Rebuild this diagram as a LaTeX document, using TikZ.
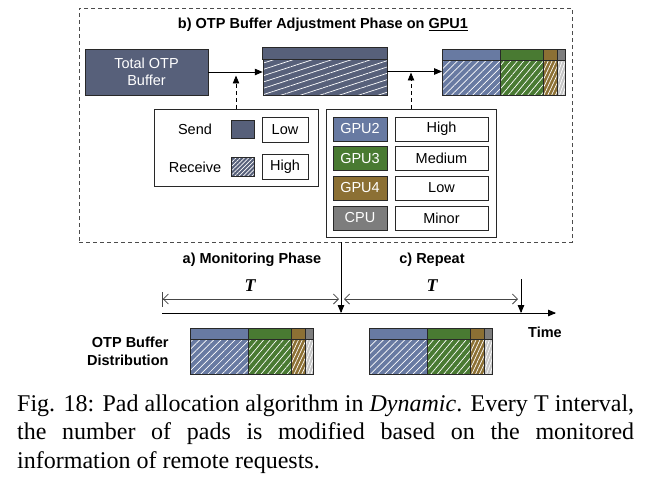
\documentclass[tikz,border=0pt]{standalone}
\usepackage{fontspec}
\setmainfont{Liberation Serif}
\setsansfont{Liberation Sans}
\usepackage{tikz}
\usetikzlibrary{shapes,arrows,arrows.meta,patterns.meta}

\definecolor{slate}{RGB}{87,96,122}
\definecolor{gpublue}{RGB}{104,122,162}
\definecolor{gpugreen}{RGB}{73,122,50}
\definecolor{gpubrown}{RGB}{140,112,52}
\definecolor{cpugray}{RGB}{125,125,125}
\definecolor{edge}{RGB}{40,40,40}

\tikzset{
  txt/.style={font=\sffamily\fontsize{14.5}{17}\selectfont},
  btxt/.style={font=\sffamily\bfseries\fontsize{14.5}{18}\selectfont},
  cell/.style={draw=edge, line width=0.8pt, rectangle, inner sep=0pt, txt},
  hatch/.style args={#1/#2/#3}{preaction={fill=#1},
    pattern={Lines[angle=#2,distance=#3,line width=0.7pt]}, pattern color=white},
}

\begin{document}
\begin{tikzpicture}[x=1pt,y=-1pt]
\useasboundingbox (0,0) rectangle (653,483);

% b) adjustment phase
\node[draw=gray!60!black, dash pattern=on 4pt off 3pt, line width=0.8pt, minimum width=493pt, minimum height=234pt, inner sep=0pt] (phaseb) at (325.5,125) {};
\node[btxt] (title) at (323,25) {b) OTP Buffer Adjustment Phase on \underline{GPU1}};

\node[cell, fill=slate, text=white, minimum width=123pt, minimum height=46pt, align=center] (otp) at (146.5,72) {Total OTP\\Buffer};

\node[cell, hatch={slate/18/6pt}, minimum width=124pt, minimum height=47pt] (mid) at (325,71.5) {};
\draw[edge, fill=slate, line width=0.8pt] (mid.north west) rectangle ([yshift=-12pt]mid.north east);

% distribution bars
\foreach \bx/\by/\bn in {442/49/adj, 190/328/mon, 369/328/rep}{
  \begin{scope}[shift={(\bx,\by)}]
    \foreach \sx/\sw/\segc/\lowc/\sa/\sd in {0/58/gpublue/gpublue/45/5pt, 58/43/gpugreen/gpugreen/50/5pt, 101/14/gpubrown/gpubrown/65/3.5pt, 115/8/cpugray/gray!45/70/3pt}{
      \draw[edge, line width=0.8pt, fill=\segc] (\sx,0) rectangle ++(\sw,11);
      \draw[edge, line width=0.8pt, hatch={\lowc/\sa/\sd}] (\sx,11) rectangle ++(\sw,35);
    }
    \coordinate (\bn) at (0,23);
  \end{scope}
}

\draw[-triangle 45, line width=0.8pt] (otp.east) -- (otp.east -| mid.west);
\draw[-triangle 45, line width=0.8pt] (mid.east) -- (mid.east -| adj);

% legends
\node[cell, minimum width=164pt, minimum height=77pt] (lgl) at (236,147.5) {};
\node[txt] (send) at (195,129) {Send};
\node[txt] (recv) at (195,167) {Receive};
\node[cell, fill=slate, minimum width=23pt, minimum height=18pt] (sendsw) at (242.5,129) {};
\node[cell, hatch={slate/45/3pt}, minimum width=23pt, minimum height=19pt] (recvsw) at (242.5,166.5) {};
\node[cell, minimum width=46pt, minimum height=25pt] (sendlvl) at (285,129.5) {Low};
\node[cell, minimum width=46pt, minimum height=25pt] (recvlvl) at (285,166.5) {High};

\node[cell, minimum width=170pt, minimum height=128pt] (lgr) at (411,173) {};
\foreach \dev/\lvl/\col/\yy in {GPU2/High/gpublue/129, GPU3/Medium/gpugreen/158.5, GPU4/Low/gpubrown/188, CPU/Minor/cpugray/218}{
  \node[cell, fill=\col, text=white, minimum width=54pt, minimum height=24pt] (dev\dev) at (360,\yy) {\dev};
  \node[cell, minimum width=93pt, minimum height=24pt] (lvl\dev) at (441.5,\yy) {\lvl};
}

\draw[dash pattern=on 4pt off 3pt, -triangle 45, line width=0.8pt] (lgl.north) -- ++(0,-33);
\draw[dash pattern=on 4pt off 3pt, -triangle 45, line width=0.8pt] (lgr.north) -- ++(0,-36);

% timeline
\coordinate (t0) at (162,313);
\coordinate (tmid) at (341,313);
\coordinate (tnext) at (521,313);
\coordinate (tend) at (556,313);
\draw[-triangle 45, line width=0.8pt] (t0) -- (tend);
\draw[-triangle 45, line width=0.8pt] (phaseb.south -| tmid) -- (tmid);
\draw[-triangle 45, line width=0.8pt] ([yshift=34pt]tnext) -- (tnext);

\draw[gray!55!black, line width=0.8pt, {Bar[width=15pt]Straight Barb[length=5pt]}-{Straight Barb[length=5pt]}] ([yshift=14pt]t0) -- ([xshift=-2pt,yshift=14pt]tmid);
\draw[gray!55!black, line width=0.8pt, {Straight Barb[length=5pt]}-{Straight Barb[length=5pt]}] ([xshift=3pt,yshift=14pt]tmid) -- ([xshift=-3pt,yshift=14pt]tnext);

\node[font=\bfseries\itshape\fontsize{18}{20}\selectfont] (T1) at (250,286) {T};
\node[font=\bfseries\itshape\fontsize{18}{20}\selectfont] (T2) at (432,286) {T};
\node[btxt] (mon) at (252,260) {a) Monitoring Phase};
\node[btxt] (rep) at (432,260) {c) Repeat};
\node[btxt] (time) at (545,332) {Time};
\node[btxt, align=right, anchor=east] (dist) at (172,351) {OTP Buffer\\Distribution};

% caption
\node[anchor=base west, inner sep=0pt, font=\fontsize{24}{28.5}\selectfont] (cap1) at (17,411) {\makebox[617pt][s]{Fig. 18: Pad allocation algorithm in \textit{Dynamic}. Every T interval,}};
\node[anchor=base west, inner sep=0pt, font=\fontsize{24}{28.5}\selectfont] (cap2) at (17,439.5) {\makebox[617pt][s]{the number of pads is modified based on the monitored}};
\node[anchor=base west, inner sep=0pt, font=\fontsize{24}{28.5}\selectfont] (cap3) at (17,468) {information of remote requests.};

\end{tikzpicture}
\end{document}
